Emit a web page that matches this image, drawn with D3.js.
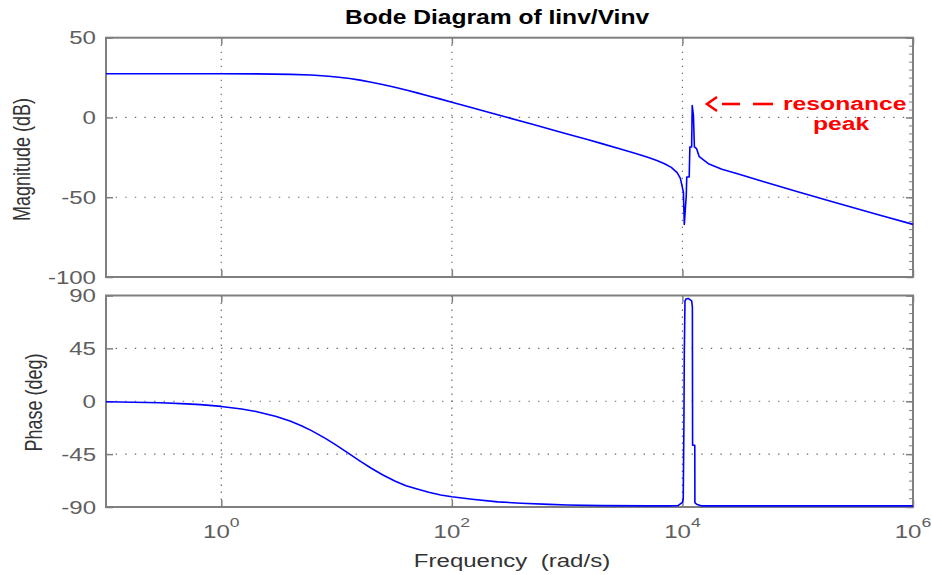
<!DOCTYPE html>
<html>
<head>
<meta charset="utf-8">
<script src="https://cdn.jsdelivr.net/npm/d3@7"></script>
<style>
  html, body { margin: 0; padding: 0; background: #fff; }
  svg { display: block; }
  text { font-family: "Liberation Sans", Arial, Helvetica, sans-serif; white-space: pre; }
</style>
</head>
<body>
<svg id="chart" width="932" height="575"></svg>
<script>
// ---------------- DATA ----------------
const titleText = "Bode Diagram of Iinv/Vinv";
const xLabelText = "Frequency\u00A0 (rad/s)";
const magLabelText = "Magnitude (dB)";
const phaseLabelText = "Phase (deg)";

const xTickValues = [1, 100, 10000, 1000000];
const xTickExponents = ["0", "2", "4", "6"];
const magTickValues = [50, 0, -50, -100];
const magTickLabels = ["50", "0", "-50", "-100"];
const phaseTickValues = [90, 45, 0, -45, -90];
const phaseTickLabels = ["90", "45", "0", "-45", "-90"];

// magnitude response (rad/s, dB)
const magFreq = [0.1, 0.5, 1, 2, 4, 6, 8, 10, 13, 16, 20, 25, 32, 40, 50, 63, 80, 100,
  150, 200, 300, 500, 700, 1000, 1500, 2000, 3000, 4000, 5000, 6000, 7000, 8000, 9000,
  9600, 10000, 10200, 10380, 10800, 10900, 11450, 11600, 12020, 12160, 12460, 12700,
  13270, 14000, 17000, 22000, 31600, 50000, 100000, 200000, 500000, 1000000];
const magDb = [27.4, 27.4, 27.4, 27.3, 27.0, 26.6, 26.0, 25.4, 24.4, 23.4, 22.1, 20.7,
  18.9, 17.2, 15.4, 13.5, 11.5, 9.6, 6.1, 3.6, 0.1, -4.3, -7.2, -10.3, -13.8, -16.4,
  -20.1, -22.8, -25.0, -27.0, -29.0, -31.3, -34.6, -38.2, -44, -47, -67, -48.8, -37.3,
  -37.3, -18.5, -18.5, 7.5, 1.2, -18.5, -19.6, -24.6, -29.2, -32.4, -35.8, -40.1,
  -46.6, -52.8, -61.0, -67.0];

// phase response (rad/s, deg)
const phFreq = [0.1, 0.3, 0.5, 0.66, 1, 1.5, 2, 3, 4, 5, 6, 8, 10, 13, 16, 20, 25, 32,
  40, 50, 63, 80, 100, 150, 250, 400, 700, 1000, 2000, 5000, 8000, 9150, 10000, 10160,
  10300, 10380, 10520, 10720, 11220, 12020, 12200, 12250, 12800, 12830, 13270, 14500,
  20000, 100000, 1000000];
const phDeg = [-0.4, -1.3, -2.2, -2.9, -4.4, -6.6, -8.7, -13, -17.1, -21, -24.8, -31.6,
  -37.6, -45, -50.9, -57, -62.5, -67.9, -72, -74.6, -77.5, -79.8, -81.3, -83.4, -85.6,
  -86.8, -87.8, -88.3, -88.8, -89, -89, -88.8, -86, -83.5, -20, 40, 85, 87, 87.5, 85.4,
  80, -37.5, -37.5, -86.3, -87.7, -89, -89, -89, -89];

// annotation
const annoLine1 = "resonance";
const annoLine2 = "peak";

// ---------------- LAYOUT ----------------
const svg = d3.select("#chart");
const SX = 1.3;             // horizontal stretch of the original picture's text
const left = 106, right = 913;
const magTop = 37.7, magBottom = 277;
const phTop = 295.5, phBottom = 507;
const frameColor = "#7f7f7f";
const labelColor = "#5e5e5e";

const x = d3.scaleLog().domain([0.1, 1e6]).range([left, right]);
const yMag = d3.scaleLinear().domain([-100, 50]).range([magBottom, magTop]);
const yPh = d3.scaleLinear().domain([-90, 90]).range([phBottom, phTop]);

function stext(xp, yp, str, size, opts = {}) {
  const t = svg.append("text")
    .attr("transform", `translate(${xp},${yp}) scale(${opts.sx || SX},1)` + (opts.rotate ? ` rotate(${opts.rotate})` : ""))
    .attr("text-anchor", opts.anchor || "start")
    .attr("font-size", size)
    .attr("font-weight", opts.bold ? "bold" : "normal")
    .attr("fill", opts.fill || labelColor)
    .text(str);
  return t;
}

function panel(y, yTicks, yMinorStep) {
  const g = svg.append("g");
  const [y0, y1] = y.range(); // bottom, top
  // grid
  const gridH = g.append("g");
  yTicks.filter(v => y(v) > y1 + 1 && y(v) < y0 - 1).forEach(v => {
    gridH.append("line").attr("x1", left).attr("x2", right)
      .attr("y1", y(v)).attr("y2", y(v))
      .attr("stroke", "#6a6a6a").attr("stroke-width", 1.2)
      .attr("stroke-dasharray", "1.4 8.2");
  });
  xTickValues.filter(v => x(v) < right - 1).forEach(v => {
    gridH.append("line").attr("x1", x(v)).attr("x2", x(v))
      .attr("y1", y1).attr("y2", y0)
      .attr("stroke", "#6a6a6a").attr("stroke-width", 1.2)
      .attr("stroke-dasharray", "1.4 5.6");
  });
  // axes (ticks inward)
  const ax = [
    [d3.axisBottom(x).tickValues(xTickValues).tickSizeInner(-7), `translate(0,${y0})`],
    [d3.axisTop(x).tickValues(xTickValues).tickSizeInner(-7), `translate(0,${y1})`],
    [d3.axisLeft(y).tickValues(yTicks).tickSizeInner(-7), `translate(${left},0)`],
    [d3.axisRight(y).tickValues(yTicks).tickSizeInner(-7), `translate(${right},0)`]
  ];
  ax.forEach(([a, tr]) => {
    const ga = g.append("g").attr("transform", tr)
      .call(a.tickSizeOuter(0).tickFormat(""));
    ga.select(".domain").remove();
    ga.selectAll(".tick line").attr("stroke", frameColor).attr("stroke-width", 1.5);
    ga.selectAll("text").remove();
  });
  // minor ticks on right edge
  const minor = d3.range(y.domain()[0], y.domain()[1] + 0.001, yMinorStep);
  const gm = g.append("g").attr("transform", `translate(${right},0)`)
    .call(d3.axisRight(y).tickValues(minor).tickSizeInner(-4).tickSizeOuter(0).tickFormat(""));
  gm.select(".domain").remove();
  gm.selectAll(".tick line").attr("stroke", frameColor).attr("stroke-width", 1);
  // frame
  g.append("rect").attr("x", left).attr("y", y1)
    .attr("width", right - left).attr("height", y0 - y1)
    .attr("fill", "none").attr("stroke", frameColor).attr("stroke-width", 2);
  return g;
}

panel(yMag, magTickValues, 5);
panel(yPh, phaseTickValues, 7.5);

// curves
const magLine = d3.line().x((d, i) => x(magFreq[i])).y(d => yMag(d));
svg.append("path").datum(magDb).attr("d", magLine)
  .attr("fill", "none").attr("stroke", "#0000ff").attr("stroke-width", 1.6)
  .attr("stroke-linejoin", "round");
const phLine = d3.line().x((d, i) => x(phFreq[i])).y(d => yPh(d));
svg.append("path").datum(phDeg).attr("d", phLine)
  .attr("fill", "none").attr("stroke", "#0000ff").attr("stroke-width", 1.6)
  .attr("stroke-linejoin", "round");

// y tick labels
magTickValues.forEach((v, i) => stext(96, yMag(v) + 6.6, magTickLabels[i], 18.5, { anchor: "end" }));
phaseTickValues.forEach((v, i) => stext(96, yPh(v) + 6.6, phaseTickLabels[i], 18.5, { anchor: "end" }));

// x tick labels 10^n
xTickValues.forEach((v, i) => {
  const t = svg.append("text")
    .attr("transform", `translate(${x(v)},538) scale(${SX},1)`)
    .attr("text-anchor", "middle").attr("font-size", 18.5).attr("fill", labelColor);
  t.append("tspan").text("10");
  t.append("tspan").attr("font-size", 13.5).attr("dy", -11).text(xTickExponents[i]);
});

// titles / labels
stext(497, 24, titleText, 20, { anchor: "middle", bold: true, fill: "#000", sx: 1.23 });
stext(512, 567, xLabelText, 18.5, { anchor: "middle", fill: "#333" });
stext(30, 159.5, magLabelText, 18, { anchor: "middle", fill: "#333", rotate: -90 });
stext(42, 402.5, phaseLabelText, 18, { anchor: "middle", fill: "#333", rotate: -90 });

// annotation
const red = "#ff0000";
svg.append("path").attr("d", "M717,97 L707,104 L717,111")
  .attr("fill", "none").attr("stroke", red).attr("stroke-width", 2.6);
svg.append("line").attr("x1", 722).attr("x2", 740).attr("y1", 104).attr("y2", 104)
  .attr("stroke", red).attr("stroke-width", 2.6);
svg.append("line").attr("x1", 753).attr("x2", 773).attr("y1", 104).attr("y2", 104)
  .attr("stroke", red).attr("stroke-width", 2.6);
stext(783, 110, annoLine1, 19, { bold: true, fill: red });
stext(813, 129.5, annoLine2, 19, { bold: true, fill: red });
</script>
</body>
</html>
